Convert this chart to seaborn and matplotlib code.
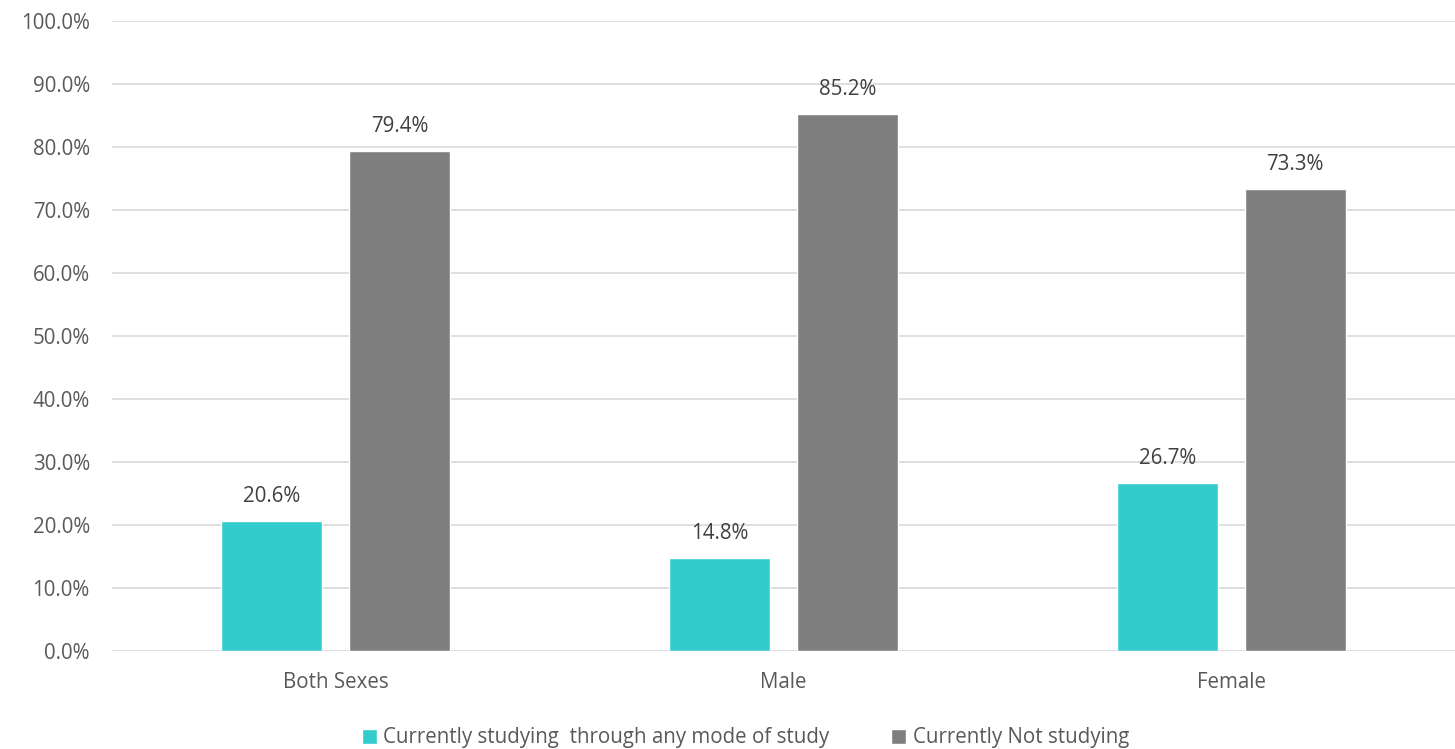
import pandas as pd
import matplotlib.pyplot as plt
import seaborn as sns

# Daten
categories = ['Both Sexes', 'Male', 'Female']
studying = [20.6, 14.8, 26.7]
not_studying = [79.4, 85.2, 73.3]
series_names = ['Currently studying  through any mode of study', 'Currently Not studying']

df = pd.DataFrame({
    'category': categories * 2,
    'series': [series_names[0]] * 3 + [series_names[1]] * 3,
    'value': studying + not_studying,
})

sns.set_style('white')
plt.rcParams['font.family'] = ['Open Sans', 'DejaVu Sans']
text_color = '#595959'

fig = plt.figure(figsize=(14.55, 7.49), dpi=100)
ax = fig.add_axes([0.077, 0.131, 0.923, 0.841])

sns.barplot(data=df, x='category', y='value', hue='series', order=categories,
            hue_order=series_names, palette=['#33CCCC', '#7F7F7F'],
            width=0.571, gap=0.21, saturation=1, ax=ax)

# Beschriftungen über den Balken
for container in ax.containers:
    ax.bar_label(container, fmt='%.1f%%', padding=10, fontsize=14.8, color='#404040')

ax.set_ylim(0, 100)
ax.set_xlim(-0.5, 2.5)
ax.set_yticks(range(0, 101, 10))
ax.set_yticklabels([f'{v:.1f}%' for v in range(0, 101, 10)])
ax.yaxis.grid(True, color='#D9D9D9', linewidth=1.2)
ax.set_axisbelow(True)
for s in ax.spines.values():
    s.set_visible(False)
ax.tick_params(axis='both', length=0, labelsize=14.8, labelcolor=text_color)
ax.tick_params(axis='y', pad=16)
ax.tick_params(axis='x', pad=15)
ax.set_xlabel('')
ax.set_ylabel('')

leg = ax.legend(loc='upper center', bbox_to_anchor=(0.5 - 0.077 / 2 + 0.01, -0.092), ncol=2,
                frameon=False, fontsize=14.8, handlelength=0.75, handleheight=0.75,
                handletextpad=0.3, columnspacing=3.0, labelcolor=text_color)

fig.savefig('out.png', dpi=100)
